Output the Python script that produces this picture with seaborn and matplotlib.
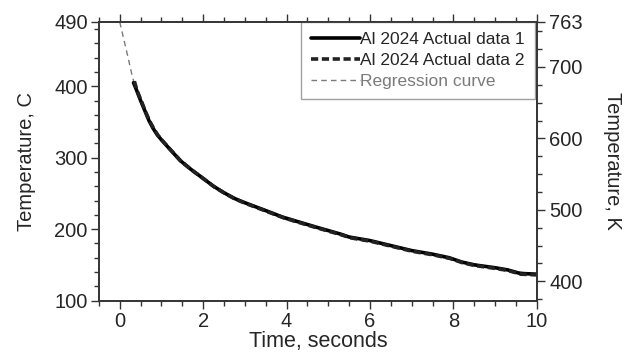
import numpy as np
import pandas as pd
import matplotlib
matplotlib.use("Agg")
import matplotlib.pyplot as plt
from matplotlib.ticker import MultipleLocator, FixedLocator
import seaborn as sns

# ---- data ----
time1 = [0.33, 0.4, 0.5, 0.6, 0.7, 0.8, 0.9, 1.0, 1.2, 1.45, 1.7, 2.0, 2.25, 2.5,
         2.75, 3.0, 3.5, 3.9, 4.3, 4.7, 5.0, 5.3, 5.5, 6.0, 6.5, 7.0, 7.5, 7.9,
         8.2, 8.5, 9.0, 9.3, 9.6, 10.0]
temp1 = [405, 395, 380, 366, 352, 341, 332, 325, 312, 296, 284, 271, 260, 251,
         243, 237, 226, 217, 210, 203, 198, 193, 189, 184, 177, 170, 165, 160,
         154, 150, 146, 143, 138, 137]
time2 = [0.35, 0.42, 0.52, 0.62, 0.72, 0.82, 0.92, 1.02, 1.22, 1.47, 1.72, 2.02,
         2.27, 2.52, 2.77, 3.02, 3.52, 3.92, 4.32, 4.72, 5.02, 5.32, 5.52, 6.02,
         6.52, 7.02, 7.52, 7.92, 8.22, 8.52, 9.02, 9.32, 9.62, 10.0]
temp2 = [407, 393, 379, 364, 351, 340, 331, 324, 311, 295, 283, 270, 259, 250,
         242, 236, 225, 216, 209, 202, 197, 192, 188, 183, 176, 169, 164, 159,
         153, 149, 145, 142, 137, 136]
time_reg = [0.0, 0.1, 0.2, 0.3, 0.4, 0.5, 0.7, 1.0, 1.5, 2.0, 2.5, 3.0, 4.0, 5.0,
            6.0, 7.0, 8.0, 9.0, 10.0]
temp_reg = [490, 465, 440, 414, 394, 379, 351, 324, 293, 270, 251, 237, 213, 197,
            183, 170, 157, 146, 136]

labels = ["Al 2024 Actual data 1", "Al 2024 Actual data 2", "Regression curve"]

df1 = pd.DataFrame({"t": time1, "T": temp1})
df2 = pd.DataFrame({"t": time2, "T": temp2})
dfr = pd.DataFrame({"t": time_reg, "T": temp_reg})

sns.set_style("ticks")
plt.rcParams["font.family"] = ["Liberation Sans", "DejaVu Sans"]

fig = plt.figure(figsize=(6.3, 3.6), dpi=100)
ax = fig.add_axes([0.157, 0.165, 0.695, 0.774])

sns.lineplot(data=dfr, x="t", y="T", ax=ax, color="#7a7a7a", lw=1.0,
             linestyle=(0, (4, 3)), label=labels[2], zorder=3)
sns.lineplot(data=df1, x="t", y="T", ax=ax, color="black", lw=2.6,
             label=labels[0], zorder=4)
sns.lineplot(data=df2, x="t", y="T", ax=ax, color="#222222", lw=2.6,
             linestyle=(0, (2, 1)), label=labels[1], zorder=5)

ax.set_xlim(-0.5, 10)
ax.set_ylim(100, 490)
ax.set_xticks([0, 2, 4, 6, 8, 10])
ax.xaxis.set_minor_locator(MultipleLocator(0.5))
ax.set_yticks([100, 200, 300, 400, 490])
ax.yaxis.set_minor_locator(MultipleLocator(20))
ax.set_xlabel("Time, seconds", fontsize=15.5, labelpad=0)
ax.set_ylabel("Temperature, C", fontsize=14.5, labelpad=13)

for s in ax.spines.values():
    s.set_color("#333333")
    s.set_linewidth(1.2)
ax.tick_params(which="both", direction="out", color="#333333", width=1.0,
               labelsize=14.5, top=True)
ax.tick_params(which="major", length=6, pad=2)
ax.tick_params(which="minor", length=3.5)
ax.tick_params(axis="x", which="major", top=True, labeltop=False)

ax2 = ax.twinx()
ax2.set_ylim(100 + 273, 490 + 273)
ax2.yaxis.set_major_locator(FixedLocator([400, 500, 600, 700, 763]))
ax2.yaxis.set_minor_locator(FixedLocator([375, 425, 450, 475, 525, 550, 575,
                                          625, 650, 675, 725, 750]))
ax2.set_ylabel("Temperature, K", fontsize=14.5, rotation=270, labelpad=28)
ax2.tick_params(which="both", direction="out", color="#333333", width=1.0,
                labelsize=14.5)
ax2.tick_params(which="major", length=6, pad=3)
ax2.tick_params(which="minor", length=3.5)
for s in ax2.spines.values():
    s.set_color("#333333")
    s.set_linewidth(1.2)

handles, labs = ax.get_legend_handles_labels()
order = [labs.index(l) for l in labels]
leg = ax.legend([handles[i] for i in order], [labs[i] for i in order],
                loc="upper right", bbox_to_anchor=(0.995, 1.0), fontsize=12.5,
                frameon=True, fancybox=False, edgecolor="#888888",
                handlelength=2.8, handletextpad=0.05, borderpad=0.55,
                labelspacing=0.35, borderaxespad=0.0)
leg.get_frame().set_linewidth(1.0)
leg.get_texts()[2].set_color("#7a7a7a")

fig.savefig("out.png", dpi=100)
